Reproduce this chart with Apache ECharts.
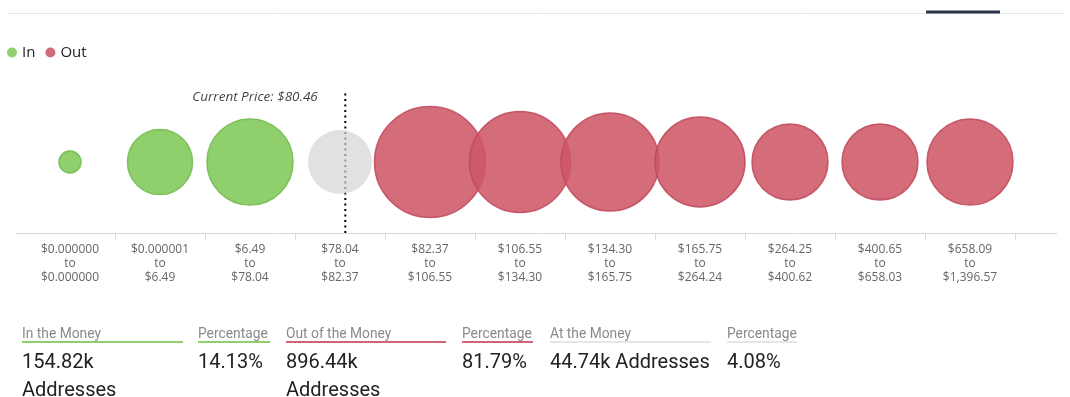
<!DOCTYPE html>
<html><head><meta charset="utf-8">
<script src="https://cdn.jsdelivr.net/npm/echarts@6/dist/echarts.min.js"></script>
<style>
html,body{margin:0;padding:0;background:#fff;overflow:hidden;width:1070px;height:397px}
#chart{position:absolute;left:0;top:0;width:1070px;height:397px}
.lab{position:absolute;top:325px;height:16px;line-height:16px;font-family:Roboto,sans-serif;font-size:13.8px;color:#8a8a8a;border-bottom:2px solid #ccc;white-space:nowrap}
.val{position:absolute;top:347px;line-height:28px;font-family:Roboto,sans-serif;font-size:20px;color:#222}
</style></head><body>
<div id="chart"></div>
<div id="stats"></div>
<script>
// ---- data ----
const rangeFrom = ['$0.000000','$0.000001','$6.49','$78.04','$82.37','$106.55','$134.30','$165.75','$264.25','$400.65','$658.09'];
const rangeTo   = ['$0.000000','$6.49','$78.04','$82.37','$106.55','$134.30','$165.75','$264.24','$400.62','$658.03','$1,396.57'];
const addressesK = [7.0, 61.3, 107.4, 59.5, 178.9, 148.1, 139.4, 117.6, 83.8, 83.8, 107.4];
const bucketStatus = ['In','In','In','At','Out','Out','Out','Out','Out','Out','Out'];
const currentPrice = 80.46;
const statLabels = ['In the Money','Percentage','Out of the Money','Percentage','At the Money','Percentage'];
const statValues = ['154.82k Addresses','14.13%','896.44k Addresses','81.79%','44.74k Addresses','4.08%'];
const statKinds  = ['In','In','Out','Out','At','At'];

// ---- styles ----
const colors = {In:'#8fcf6c', Out:'rgb(206,88,102)', At:'rgb(212,212,212)'};
const borders = {In:'#7cc05a', Out:'#c04a5d', At:'rgba(0,0,0,0)'};
const opac = {In:1, Out:0.88, At:0.7};
const legendColors = {In:'#8fcf6c', Out:'#d46b7a'};
const lineColors = {In:'#8fcf6c', Out:'#cc6575', At:'#e6e6e6'};
const colLeft = [22,198,286,462,550,727];
const colWidth = [161,72,160,71,161,70];
const valWidth = [161,72,160,71,190,90];

const categories = rangeFrom.map((f,i)=> f + '\nto\n' + rangeTo[i]);
const num = s => parseFloat(s.replace(/[$,]/g,''));
let pricePos = 0;
rangeFrom.forEach((f,i)=>{
  const lo = num(f), hi = num(rangeTo[i]);
  if (currentPrice >= lo && currentPrice <= hi && hi > lo) pricePos = i + (currentPrice-lo)/(hi-lo);
});

function bubbleSeries(kind){
  return {
    name: kind, type:'scatter', xAxisIndex:0, yAxisIndex:0, z:3,
    data: addressesK.map((v,i)=> bucketStatus[i]===kind ? [i,0,v] : null).filter(Boolean),
    symbolSize: d => Math.sqrt(d[2]) * 8.3,
    itemStyle: {color: colors[kind], opacity: opac[kind], borderColor: borders[kind], borderWidth: 1.5},
    emphasis: {disabled:true}, silent:true
  };
}

const chart = echarts.init(document.getElementById('chart'), null, {renderer:'canvas'});
chart.setOption({
  animation:false,
  legend:{data:['In','Out'].map(n=>({name:n, itemStyle:{color:legendColors[n], borderWidth:0, opacity:1}})),
    left:7, top:45, padding:0, icon:'circle', itemWidth:10, itemHeight:10, itemGap:10,
    textStyle:{fontFamily:'Open Sans', fontSize:15, color:'#222'}},
  grid:{left:25, right:55, top:91, bottom:164, containLabel:false},
  xAxis:[
    {type:'category', data:categories, boundaryGap:true, position:'bottom',
      axisLine:{show:false, onZero:false},
      axisTick:{show:true, length:7, lineStyle:{color:'#d8d8d8'}, interval:(i)=> i>0},
      axisLabel:{interval:0, margin:10, fontFamily:'Open Sans', fontSize:12, lineHeight:14, color:'#666'},
      splitLine:{show:false}},
    {type:'value', min:0, max:categories.length, show:false}
  ],
  yAxis:{type:'value', min:-1, max:1, show:false},
  series:[
    {name:'price', type:'line', xAxisIndex:1, yAxisIndex:0, z:1, symbol:'none', silent:true,
      data:[[pricePos,-1],[pricePos,1]],
      lineStyle:{color:'#000', width:2, type:[2,3.5], cap:'butt'}},
    {name:'priceLabel', type:'scatter', xAxisIndex:1, yAxisIndex:0, z:4, silent:true,
      data:[[pricePos,1]], symbolSize:1, itemStyle:{color:'rgba(0,0,0,0)'},
      label:{show:true, position:'left', distance:27, offset:[0,6],
        formatter:'Current Price: $' + currentPrice.toFixed(2),
        fontFamily:'Open Sans', fontStyle:'italic', fontSize:13.5, color:'#111'}},
    bubbleSeries('In'), bubbleSeries('At'), bubbleSeries('Out')
  ],
  graphic:[
    {type:'line', shape:{x1:8,y1:13.5,x2:1065,y2:13.5}, style:{stroke:'#e6e6e6', lineWidth:1}, silent:true},
    {type:'line', shape:{x1:926,y1:12,x2:1000,y2:12}, style:{stroke:'#2c3647', lineWidth:3}, silent:true},
    {type:'line', shape:{x1:16,y1:233.5,x2:1057,y2:233.5}, style:{stroke:'#d8d8d8', lineWidth:1}, silent:true}
  ]
});

const stats = document.getElementById('stats');
statLabels.forEach((t,i)=>{
  const l = document.createElement('div');
  l.className='lab'; l.textContent=t;
  l.style.left=colLeft[i]+'px'; l.style.width=colWidth[i]+'px';
  l.style.borderBottomColor=lineColors[statKinds[i]];
  stats.appendChild(l);
  const v = document.createElement('div');
  v.className='val'; v.textContent=statValues[i];
  v.style.left=colLeft[i]+'px'; v.style.width=valWidth[i]+'px';
  stats.appendChild(v);
});
</script>
</body></html>
